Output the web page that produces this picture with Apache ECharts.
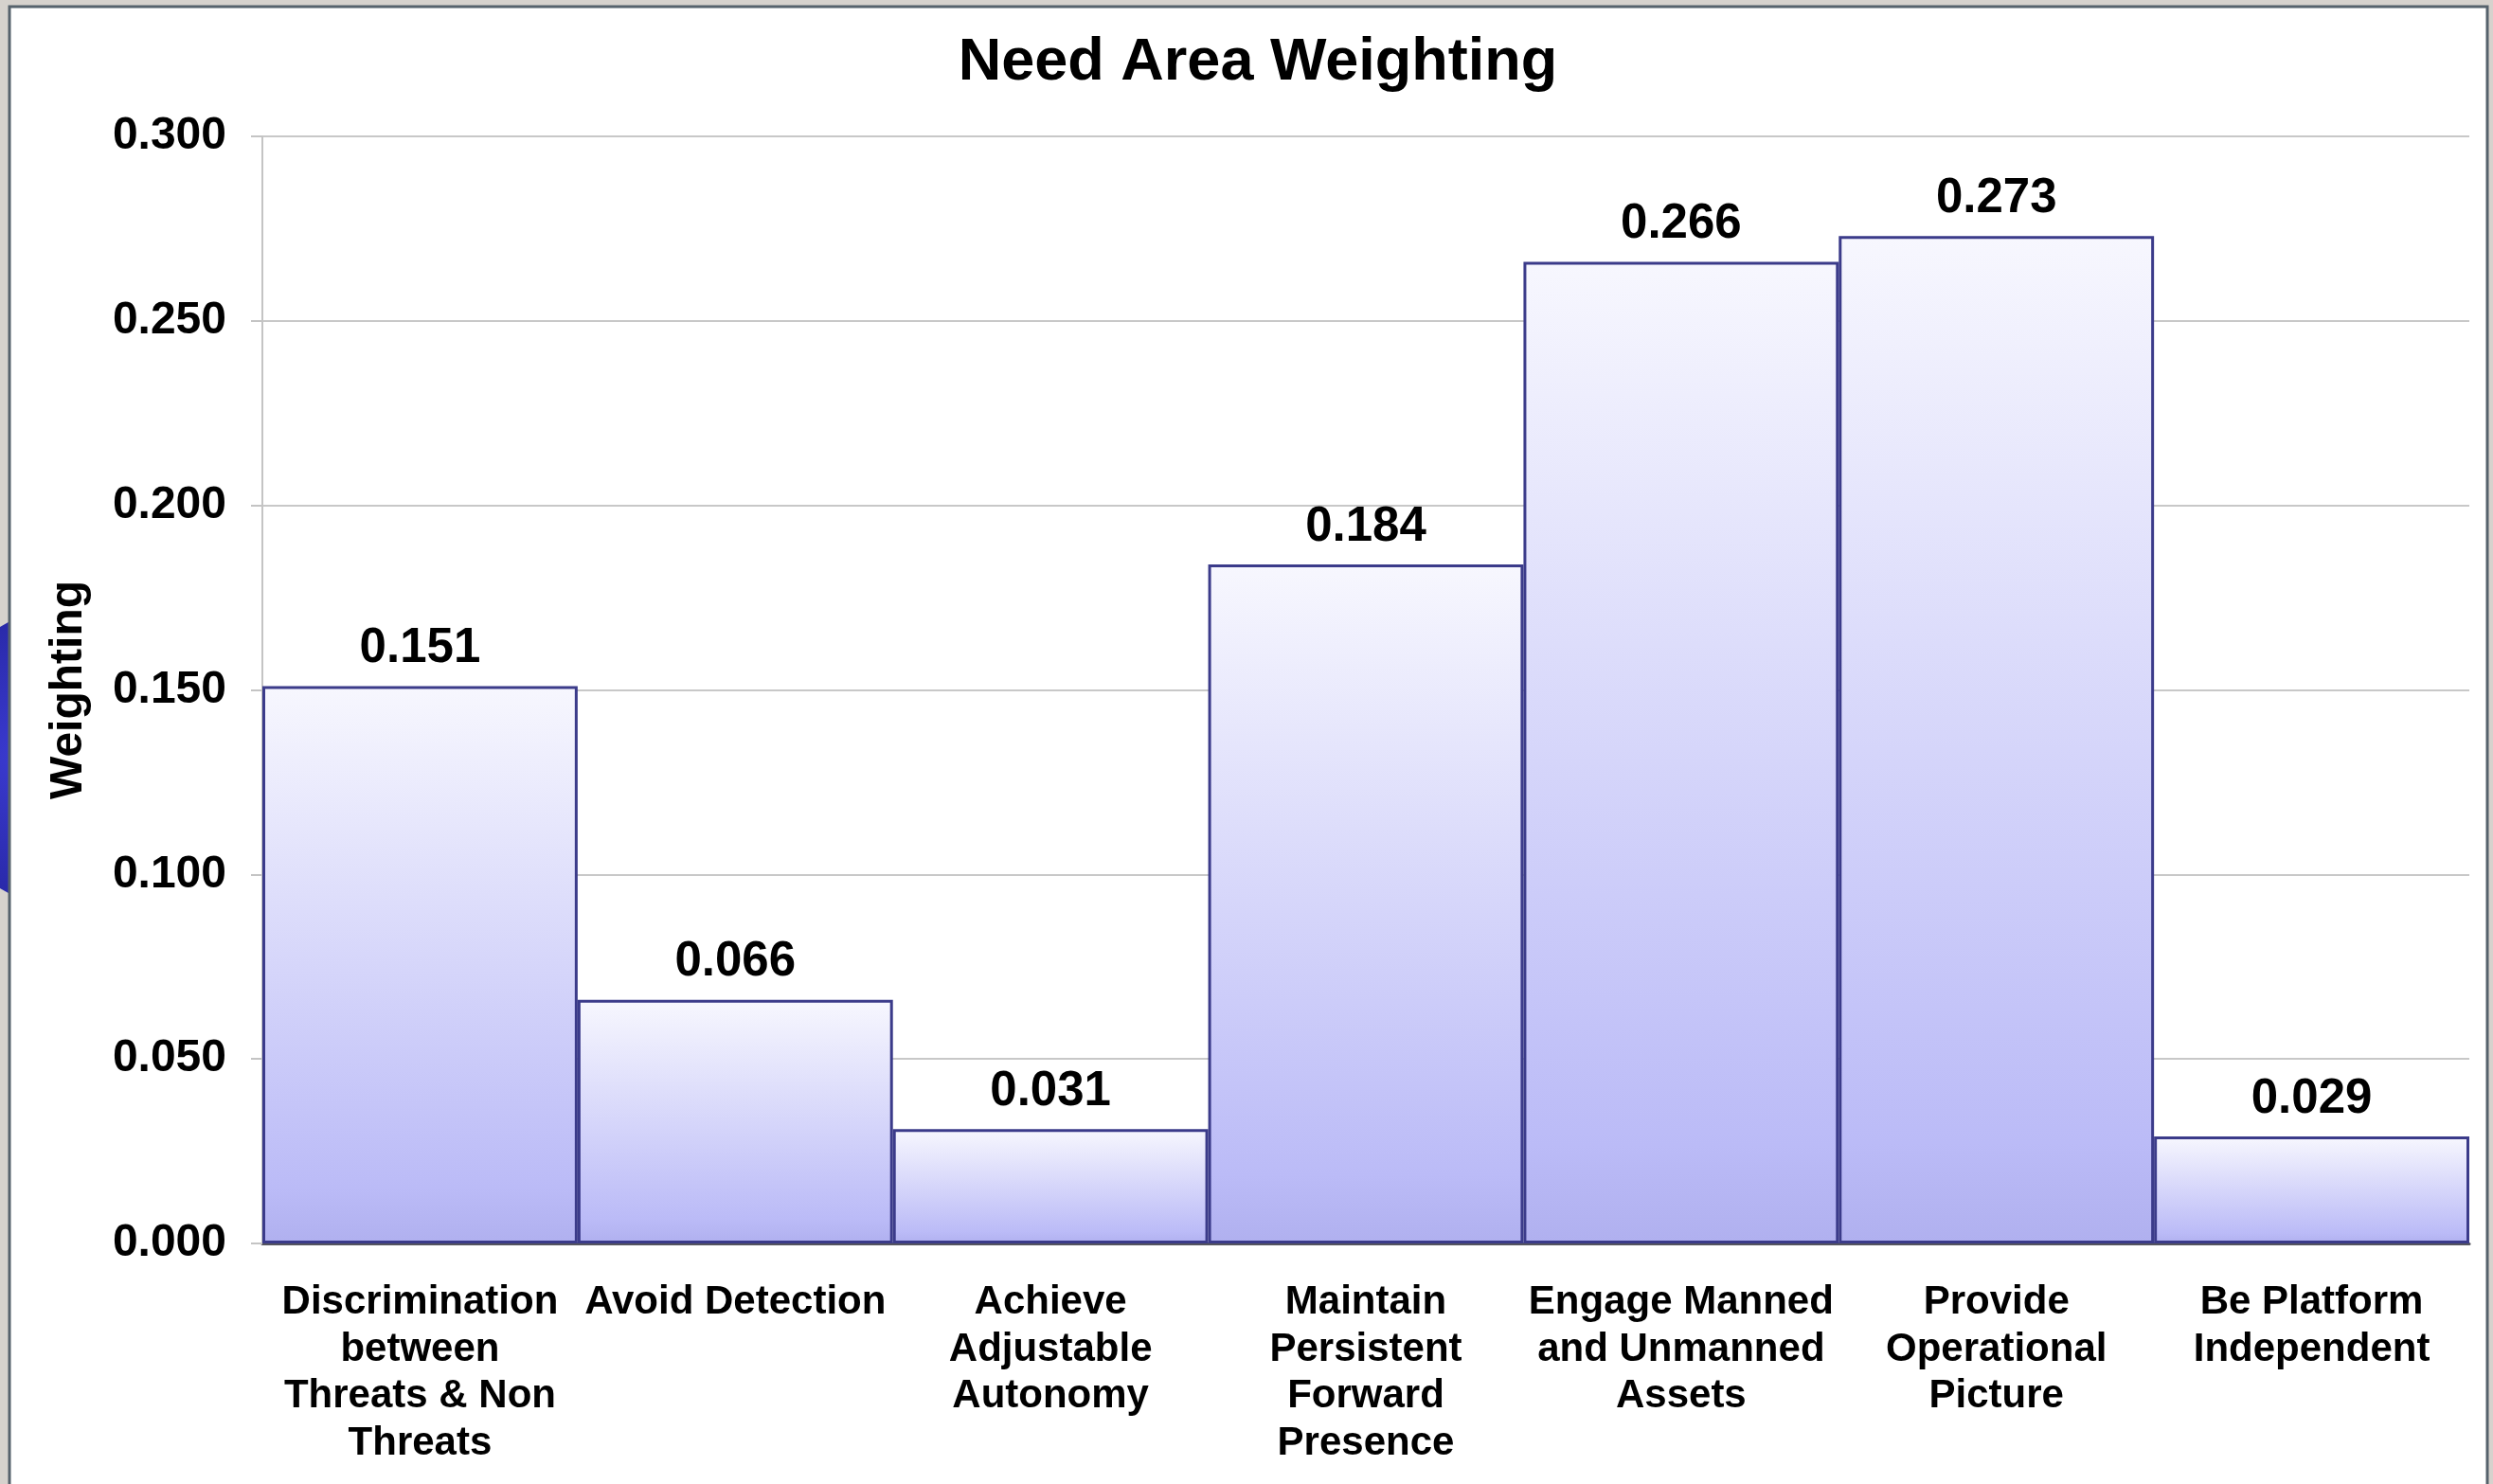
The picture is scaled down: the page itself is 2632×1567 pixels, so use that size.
<!DOCTYPE html>
<html>
<head>
<meta charset="utf-8">
<title>Need Area Weighting</title>
<script src="https://cdn.jsdelivr.net/npm/echarts@6/dist/echarts.min.js"></script>
<style>
  html, body { margin: 0; padding: 0; background: #d6d2cd; }
  #chart { width: 2632px; height: 1567px; }
</style>
</head>
<body>
<div id="chart"></div>
<script>
// Need areas along the x axis
const categories = [
  'Discrimination\nbetween\nThreats & Non\nThreats',
  'Avoid Detection',
  'Achieve\nAdjustable\nAutonomy',
  'Maintain\nPersistent\nForward\nPresence',
  'Engage Manned\nand Unmanned\nAssets',
  'Provide\nOperational\nPicture',
  'Be Platform\nIndependent'
];

// Weighting of each need area
const weights = [0.151, 0.066, 0.031, 0.184, 0.266, 0.273, 0.029];

// Value axis range
const yMin = 0;
const yMax = 0.3;
const yStep = 0.05;

const FONT = '"Liberation Sans", Arial, sans-serif';

const chart = echarts.init(document.getElementById('chart'), null, { renderer: 'canvas' });

chart.setOption({
  backgroundColor: '#d6d2cd',
  animation: false,
  graphic: [
    // blue slide ornament peeking out from behind the panel
    {
      type: 'circle',
      z: -10,
      shape: { cx: 85, cy: 800, r: 162 },
      style: {
        fill: new echarts.graphic.RadialGradient(0.3, 0.5, 0.8, [
          { offset: 0, color: '#3a3ad0' },
          { offset: 1, color: '#1c1c8a' }
        ])
      }
    },
    // white panel with a dark frame on the top and left
    {
      type: 'rect',
      z: -9,
      shape: { x: 10, y: 7, width: 2616, height: 1570 },
      style: { fill: '#ffffff', stroke: '#56626c', lineWidth: 3 }
    }
  ],
  title: {
    text: 'Need Area Weighting',
    left: 1323,
    textAlign: 'center',
    top: 30,
    textStyle: { fontFamily: FONT, fontWeight: 'bold', fontSize: 63, color: '#000' }
  },
  grid: { left: 277, right: 25, top: 144, bottom: 254, containLabel: false },
  xAxis: {
    type: 'category',
    data: categories,
    axisLine: { show: true, lineStyle: { color: '#55555f', width: 3 } },
    axisTick: { show: false },
    axisLabel: {
      interval: 0,
      margin: 38,
      fontFamily: FONT,
      fontWeight: 'bold',
      fontSize: 42,
      lineHeight: 49.5,
      color: '#000',
      align: 'center'
    }
  },
  yAxis: {
    type: 'value',
    min: yMin,
    max: yMax,
    interval: yStep,
    name: 'Weighting',
    nameLocation: 'middle',
    nameGap: 180,
    nameRotate: 90,
    nameTextStyle: { fontFamily: FONT, fontWeight: 'bold', fontSize: 48, color: '#000' },
    axisLine: { show: true, lineStyle: { color: '#c4c4c4', width: 2 } },
    axisTick: { show: true, length: 12, lineStyle: { color: '#c4c4c4', width: 2 } },
    splitLine: { show: true, lineStyle: { color: '#c8c8c8', width: 2 } },
    axisLabel: {
      margin: 38,
      fontFamily: FONT,
      fontWeight: 'bold',
      fontSize: 48,
      color: '#000',
      formatter: v => v.toFixed(3)
    }
  },
  series: [{
    type: 'bar',
    data: weights,
    barCategoryGap: '0%',
    itemStyle: {
      color: new echarts.graphic.LinearGradient(0, 0, 0, 1, [
        { offset: 0, color: '#f7f7fe' },
        { offset: 0.9, color: '#bbbbf7' },
        { offset: 1, color: '#b0b0ef' }
      ]),
      borderColor: '#3b3b8a',
      borderWidth: 3
    },
    label: {
      show: true,
      position: 'top',
      distance: 14,
      fontFamily: FONT,
      fontWeight: 'bold',
      fontSize: 51,
      color: '#000',
      formatter: p => p.value.toFixed(3)
    }
  }]
});
</script>
</body>
</html>
